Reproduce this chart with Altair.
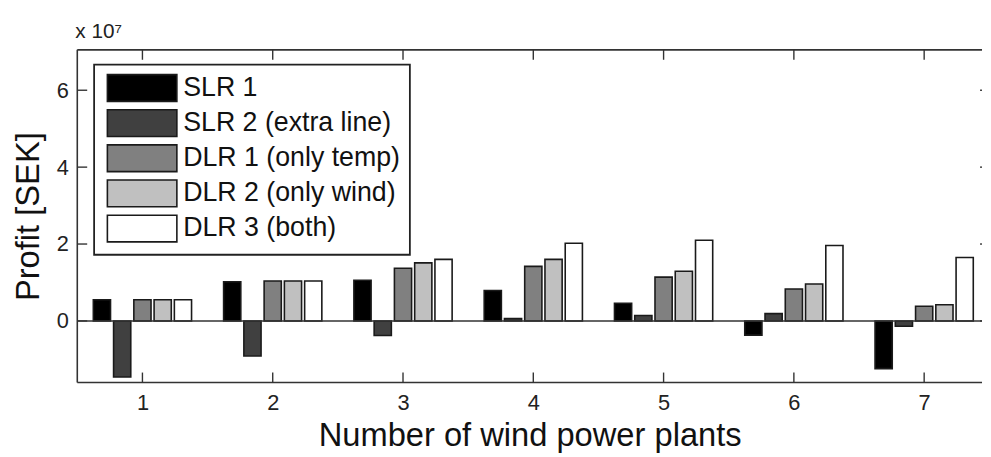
import altair as alt
import pandas as pd

# ---- data (profit in units of 1e7 SEK) ----
plants = [1, 2, 3, 4, 5, 6, 7]
series = ["SLR 1", "SLR 2 (extra line)", "DLR 1 (only temp)", "DLR 2 (only wind)", "DLR 3 (both)"]
slr1 = [0.55, 1.02, 1.06, 0.79, 0.46, -0.37, -1.24]
slr2 = [-1.46, -0.91, -0.38, 0.06, 0.14, 0.19, -0.14]
dlr1 = [0.55, 1.04, 1.37, 1.42, 1.14, 0.83, 0.38]
dlr2 = [0.55, 1.04, 1.51, 1.60, 1.29, 0.96, 0.42]
dlr3 = [0.55, 1.04, 1.60, 2.02, 2.10, 1.96, 1.65]
fills = ["#000000", "#404040", "#808080", "#c0c0c0", "#ffffff"]
x_ticks = [1, 2, 3, 4, 5, 6, 7]
y_ticks = [0, 2, 4, 6]

rows = []
for k, (name, vals) in enumerate(zip(series, [slr1, slr2, dlr1, dlr2, dlr3])):
    for p, v in zip(plants, vals):
        rows.append({"plants": p, "series": name, "idx": k, "profit": v})
df = pd.DataFrame(rows)
xt = pd.DataFrame({"v": x_ticks})
yt = pd.DataFrame({"v": y_ticks})
one = pd.DataFrame({"k": [0]})

W, H = 914, 336
STEP, HALF = 0.1555, 0.066
FONT = "Liberation Sans"
INK = "#222222"

xscale = alt.Scale(domain=[0.5, 7.444], nice=False, zero=False)
yscale = alt.Scale(domain=[-1.6, 7.05], nice=False, zero=False)

bars = alt.Chart(df).transform_calculate(
    xa=f"datum.plants + (datum.idx - 2) * {STEP} - {HALF}",
    xb=f"datum.plants + (datum.idx - 2) * {STEP} + {HALF}",
).mark_bar(stroke="#1a1a1a", strokeWidth=1.6).encode(
    x=alt.X("xa:Q", scale=xscale,
            axis=alt.Axis(values=x_ticks, format="d", title="Number of wind power plants",
                          ticks=False, domain=False, grid=False,
                          labelFontSize=22, labelPadding=10, labelColor=INK,
                          labelFont=FONT, titleFont=FONT, titleFontSize=33,
                          titleFontWeight="normal", titleColor="#111", titlePadding=7)),
    x2="xb:Q",
    y=alt.Y("profit:Q", scale=yscale,
            axis=alt.Axis(values=y_ticks, format="d", title="Profit [SEK]",
                          ticks=False, domain=False, grid=False,
                          labelFontSize=22, labelPadding=9, labelColor=INK,
                          labelFont=FONT, titleFont=FONT, titleFontSize=33,
                          titleFontWeight="normal", titleColor="#111", titlePadding=11)),
    y2=alt.datum(0),
    color=alt.Color("series:N", scale=alt.Scale(domain=series, range=fills),
                    legend=alt.Legend(title=None, orient="none", legendX=17, legendY=15,
                                      fillColor="white", strokeColor=INK, padding=9,
                                      symbolType="M-2.6,-1H2.6V1H-2.6Z", symbolSize=729,
                                      symbolStrokeColor="#1a1a1a", symbolStrokeWidth=1.6,
                                      symbolOffset=25, labelOffset=27, labelFontSize=27,
                                      labelFont=FONT, labelColor="#111", rowPadding=0.5,
                                      labelLimit=400)),
)

zero = alt.Chart(one).transform_calculate(z="0").mark_rule(color="#333333", strokeWidth=1.6).encode(
    y=alt.Y("z:Q", scale=yscale)
)

frame_left = alt.Chart(one).mark_rule(color="#333333", strokeWidth=1.6).encode(x=alt.value(0))
frame_top = alt.Chart(one).mark_rule(color="#333333", strokeWidth=1.6).encode(y=alt.value(0))
frame_bot = alt.Chart(one).mark_rule(color="#333333", strokeWidth=1.6).encode(y=alt.value(H))

tick_style = dict(color="#333333", strokeWidth=1.4)
xt_bot = alt.Chart(xt).mark_rule(**tick_style).encode(
    x=alt.X("v:Q", scale=xscale), y=alt.value(H - 10), y2=alt.value(H))
xt_top = alt.Chart(xt).mark_rule(**tick_style).encode(
    x=alt.X("v:Q", scale=xscale), y=alt.value(0), y2=alt.value(10))
yt_left = alt.Chart(yt).mark_rule(**tick_style).encode(
    y=alt.Y("v:Q", scale=yscale), x=alt.value(0), x2=alt.value(10))
yt_right = alt.Chart(yt).mark_rule(**tick_style).encode(
    y=alt.Y("v:Q", scale=yscale), x=alt.value(W - 2), x2=alt.value(W))

chart = alt.layer(
    bars, zero, frame_left, frame_top, frame_bot, xt_bot, xt_top, yt_left, yt_right
).properties(
    width=W, height=H,
    title=alt.TitleParams("x 10\u2077", anchor="start", frame="group", fontSize=21,
                          font=FONT, fontWeight="normal", color=INK, offset=7, dx=-2),
    padding={"left": 4, "top": 11, "right": 0, "bottom": 0},
).configure_view(strokeWidth=0).configure_legend(strokeWidth=1.8)

chart.save("out.html", embed_options={"renderer": "svg", "actions": False})
